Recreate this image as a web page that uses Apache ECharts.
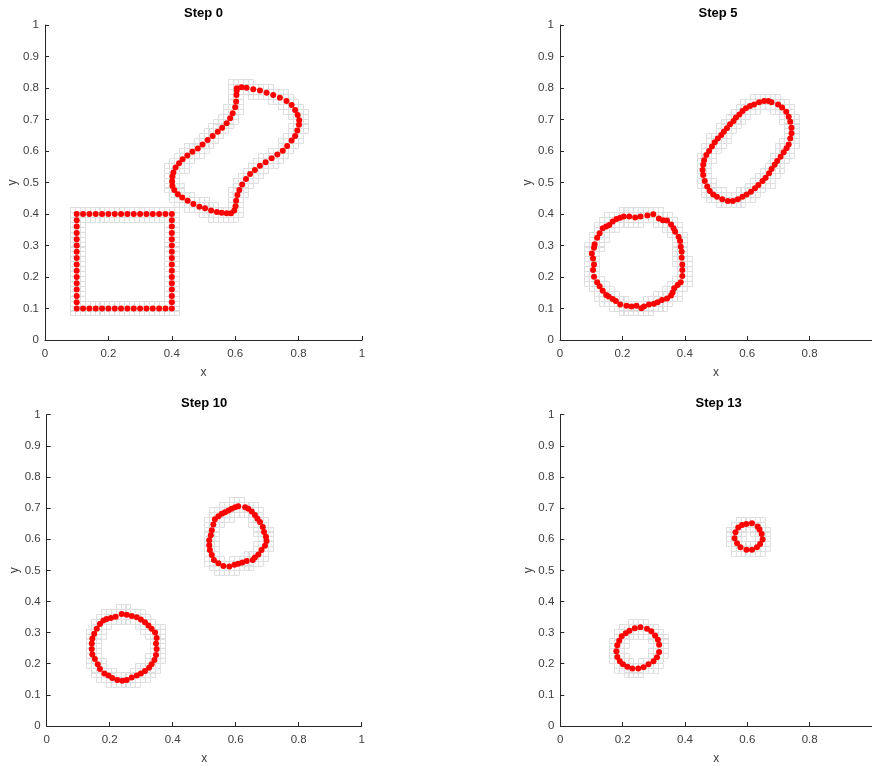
<!DOCTYPE html>
<html>
<head>
<meta charset="utf-8">
<script src="https://cdn.jsdelivr.net/npm/echarts@6/dist/echarts.min.js"></script>
<style>html,body{margin:0;padding:0;background:#fff;}#c{width:872px;height:766px;}</style>
</head>
<body>
<div id="c"></div>
<script>
// ---------- DATA ----------
const titles = ['Step 0', 'Step 5', 'Step 10', 'Step 13'];
const yTicks = [0, 0.1, 0.2, 0.3, 0.4, 0.5, 0.6, 0.7, 0.8, 0.9, 1];
const xTicks = [0, 0.2, 0.4, 0.6, 0.8, 1];

const step0Square = [
  [0.10,0.40],[0.12,0.40],[0.14,0.40],[0.16,0.40],[0.18,0.40],[0.20,0.40],[0.22,0.40],[0.24,0.40],
  [0.26,0.40],[0.28,0.40],[0.30,0.40],[0.32,0.40],[0.34,0.40],[0.36,0.40],[0.38,0.40],[0.40,0.40],
  [0.40,0.38],[0.40,0.36],[0.40,0.34],[0.40,0.32],[0.40,0.30],[0.40,0.28],[0.40,0.26],[0.40,0.24],
  [0.40,0.22],[0.40,0.20],[0.40,0.18],[0.40,0.16],[0.40,0.14],[0.40,0.12],[0.40,0.10],
  [0.38,0.10],[0.36,0.10],[0.34,0.10],[0.32,0.10],[0.30,0.10],[0.28,0.10],[0.26,0.10],[0.24,0.10],
  [0.22,0.10],[0.20,0.10],[0.18,0.10],[0.16,0.10],[0.14,0.10],[0.12,0.10],[0.10,0.10],
  [0.10,0.12],[0.10,0.14],[0.10,0.16],[0.10,0.18],[0.10,0.20],[0.10,0.22],[0.10,0.24],[0.10,0.26],
  [0.10,0.28],[0.10,0.30],[0.10,0.32],[0.10,0.34],[0.10,0.36],[0.10,0.38]
];
const step0Blob = [
  [0.605,0.799],[0.620,0.802],[0.636,0.801],[0.657,0.796],[0.678,0.792],[0.699,0.785],[0.720,0.778],
  [0.741,0.769],[0.762,0.759],[0.778,0.746],[0.789,0.730],[0.797,0.714],[0.802,0.698],[0.801,0.683],
  [0.796,0.665],[0.789,0.648],[0.778,0.633],[0.764,0.616],[0.750,0.601],[0.733,0.589],[0.715,0.577],
  [0.696,0.564],[0.678,0.553],[0.662,0.540],[0.647,0.527],[0.634,0.511],[0.622,0.494],[0.613,0.476],
  [0.607,0.460],[0.603,0.442],[0.601,0.425],[0.597,0.411],[0.587,0.402],[0.573,0.402],[0.557,0.404],
  [0.542,0.406],[0.524,0.411],[0.505,0.418],[0.487,0.423],[0.468,0.432],[0.450,0.442],[0.433,0.452],
  [0.419,0.463],[0.408,0.476],[0.402,0.489],[0.401,0.503],[0.402,0.519],[0.405,0.532],[0.412,0.548],
  [0.423,0.561],[0.434,0.574],[0.449,0.586],[0.465,0.598],[0.482,0.608],[0.497,0.621],[0.513,0.635],
  [0.529,0.648],[0.545,0.661],[0.559,0.674],[0.573,0.688],[0.584,0.704],[0.592,0.720],[0.600,0.739],
  [0.603,0.757],[0.604,0.778],[0.605,0.792]
];
const step5Circle = [
  [0.204,0.392],[0.222,0.392],[0.241,0.389],[0.258,0.392],[0.280,0.395],[0.299,0.399],[0.317,0.386],
  [0.330,0.380],[0.343,0.379],[0.356,0.367],[0.364,0.355],[0.369,0.344],[0.380,0.328],[0.385,0.314],
  [0.387,0.296],[0.390,0.280],[0.390,0.261],[0.392,0.240],[0.392,0.222],[0.392,0.203],[0.387,0.183],
  [0.377,0.175],[0.366,0.164],[0.361,0.151],[0.356,0.141],[0.343,0.132],[0.327,0.127],[0.313,0.120],
  [0.301,0.115],[0.285,0.113],[0.269,0.106],[0.261,0.101],[0.245,0.109],[0.229,0.106],[0.213,0.109],
  [0.193,0.113],[0.179,0.124],[0.169,0.130],[0.156,0.138],[0.148,0.143],[0.137,0.156],[0.127,0.171],
  [0.119,0.183],[0.109,0.201],[0.106,0.222],[0.109,0.240],[0.106,0.259],[0.102,0.275],[0.109,0.293],
  [0.111,0.304],[0.119,0.325],[0.127,0.339],[0.137,0.355],[0.148,0.360],[0.158,0.365],[0.169,0.376],
  [0.181,0.384],[0.193,0.388]
];
const step5Ellipse = [
  [0.654,0.759],[0.638,0.755],[0.622,0.748],[0.609,0.743],[0.596,0.736],[0.585,0.727],[0.575,0.716],
  [0.564,0.706],[0.556,0.695],[0.545,0.685],[0.535,0.672],[0.525,0.661],[0.517,0.651],[0.506,0.640],
  [0.496,0.628],[0.487,0.614],[0.478,0.600],[0.469,0.587],[0.462,0.571],[0.459,0.556],[0.457,0.540],
  [0.459,0.524],[0.464,0.505],[0.472,0.487],[0.480,0.473],[0.491,0.462],[0.503,0.455],[0.520,0.447],
  [0.538,0.441],[0.554,0.441],[0.570,0.447],[0.585,0.455],[0.598,0.462],[0.612,0.471],[0.625,0.482],
  [0.636,0.492],[0.649,0.505],[0.659,0.515],[0.670,0.529],[0.678,0.543],[0.688,0.556],[0.696,0.568],
  [0.707,0.582],[0.717,0.596],[0.726,0.609],[0.733,0.621],[0.738,0.640],[0.742,0.656],[0.742,0.674],
  [0.738,0.693],[0.733,0.709],[0.725,0.725],[0.712,0.738],[0.699,0.748],[0.678,0.755],[0.668,0.759]
];
const step10Circle = [
  [0.238,0.360],[0.254,0.357],[0.270,0.353],[0.286,0.349],[0.299,0.342],[0.312,0.333],[0.323,0.323],
  [0.333,0.312],[0.344,0.300],[0.349,0.283],[0.347,0.265],[0.349,0.247],[0.347,0.228],[0.342,0.212],
  [0.333,0.198],[0.325,0.187],[0.312,0.177],[0.299,0.169],[0.286,0.162],[0.270,0.156],[0.254,0.148],
  [0.240,0.145],[0.224,0.148],[0.208,0.154],[0.196,0.162],[0.183,0.169],[0.169,0.183],[0.162,0.198],
  [0.153,0.215],[0.145,0.230],[0.143,0.247],[0.143,0.265],[0.145,0.281],[0.151,0.296],[0.159,0.312],
  [0.169,0.328],[0.180,0.339],[0.190,0.344],[0.204,0.347],[0.219,0.351]
];
const step10Blob = [
  [0.608,0.706],[0.598,0.703],[0.587,0.698],[0.577,0.692],[0.566,0.687],[0.556,0.682],[0.545,0.674],
  [0.534,0.664],[0.529,0.647],[0.524,0.629],[0.521,0.613],[0.516,0.597],[0.516,0.581],[0.518,0.565],
  [0.524,0.549],[0.531,0.533],[0.545,0.523],[0.561,0.514],[0.580,0.512],[0.596,0.518],[0.608,0.521],
  [0.621,0.525],[0.635,0.530],[0.654,0.533],[0.661,0.541],[0.672,0.551],[0.682,0.565],[0.693,0.579],
  [0.698,0.594],[0.696,0.608],[0.690,0.623],[0.686,0.639],[0.677,0.655],[0.669,0.666],[0.661,0.678],
  [0.651,0.689],[0.640,0.698],[0.630,0.703]
];
const step13Circle = [
  [0.257,0.317],[0.239,0.314],[0.222,0.306],[0.210,0.298],[0.197,0.288],[0.189,0.274],[0.183,0.259],
  [0.180,0.240],[0.183,0.222],[0.191,0.208],[0.201,0.198],[0.215,0.190],[0.231,0.185],[0.250,0.185],
  [0.267,0.189],[0.283,0.198],[0.299,0.208],[0.310,0.221],[0.317,0.238],[0.317,0.261],[0.313,0.277],
  [0.304,0.291],[0.292,0.304],[0.278,0.312]
];
const step13Small = [
  [0.615,0.651],[0.597,0.649],[0.583,0.646],[0.571,0.638],[0.562,0.622],[0.559,0.603],[0.567,0.587],
  [0.578,0.574],[0.597,0.566],[0.615,0.566],[0.631,0.574],[0.641,0.585],[0.649,0.599],[0.646,0.617],
  [0.639,0.631],[0.633,0.641]
];

const stepPoints = [
  step0Square.concat(step0Blob),
  step5Circle.concat(step5Ellipse),
  step10Circle.concat(step10Blob),
  step13Circle.concat(step13Small)
];

// ---------- LAYOUT ----------
const grids = [
  {left: 45, top: 25, width: 317, height: 315},
  {left: 560, top: 25, right: -4, height: 315},
  {left: 46.7, top: 414.7, width: 315, height: 315},
  {left: 560.3, top: 414.7, right: -4.9, height: 314}
];
const gridWidths = [317, 316, 315, 316.7];
const showLastX = [true, false, true, false];

// refinement cells around the interface points
const H = 1 / 64;
function cellsFor(points) {
  const seen = new Set(); const out = [];
  points.forEach(p => {
    const i0 = Math.floor(p[0] / H), j0 = Math.floor(p[1] / H);
    for (let i = i0 - 2; i <= i0 + 2; i++) for (let j = j0 - 2; j <= j0 + 2; j++) {
      const cx = (i + 0.5) * H, cy = (j + 0.5) * H;
      if (Math.abs(cx - p[0]) < 1.5 * H && Math.abs(cy - p[1]) < 1.5 * H) {
        const k = i + ',' + j;
        if (!seen.has(k)) { seen.add(k); out.push([i * H, j * H]); }
      }
    }
  });
  return out;
}

const axisColor = '#262626';
const labelColor = '#404040';
const font = 'Liberation Sans, Arial, Helvetica, sans-serif';
const fmt = v => String(parseFloat(v.toFixed(1)));
const option = {
  backgroundColor: '#ffffff',
  animation: false,
  title: grids.map((g, k) => ({
    text: titles[k],
    left: g.left + gridWidths[k] / 2,
    top: g.top - 18,
    textAlign: 'center',
    padding: 0,
    textStyle: {fontFamily: font, fontSize: 13, fontWeight: 'bold', color: '#000'}
  })),
  grid: grids.map(g => Object.assign({containLabel: false}, g)),
  xAxis: grids.map((g, k) => ({
    gridIndex: k, type: 'value', min: 0, max: 1, interval: 0.2,
    name: 'x', nameLocation: 'middle', nameGap: 27,
    nameTextStyle: {fontFamily: font, fontSize: 12, color: labelColor},
    axisLine: {show: true, onZero: false, lineStyle: {color: axisColor, width: 1}},
    axisTick: {show: true, inside: true, length: 4, lineStyle: {color: axisColor}},
    axisLabel: {fontFamily: font, fontSize: 11.5, color: labelColor, margin: 8,
      showMaxLabel: showLastX[k], formatter: fmt},
    splitLine: {show: false}
  })),
  yAxis: grids.map((g, k) => ({
    gridIndex: k, type: 'value', min: 0, max: 1, interval: 0.1,
    name: 'y', nameLocation: 'middle', nameGap: 26, nameRotate: 90,
    nameTextStyle: {fontFamily: font, fontSize: 12, color: labelColor},
    axisLine: {show: true, onZero: false, lineStyle: {color: axisColor, width: 1}},
    axisTick: {show: true, inside: true, length: 4, lineStyle: {color: axisColor}},
    axisLabel: {fontFamily: font, fontSize: 11.5, color: labelColor, margin: 6, formatter: fmt},
    splitLine: {show: false}
  })),
  series: []
};

stepPoints.forEach((pts, k) => {
  option.series.push({
    type: 'custom', xAxisIndex: k, yAxisIndex: k, z: 1, silent: true, clip: true,
    data: cellsFor(pts),
    renderItem: function (params, api) {
      const p0 = api.coord([api.value(0), api.value(1) + H]);
      const s = api.size([H, H]);
      return {type: 'rect', shape: {x: Math.round(p0[0]) + 0.5, y: Math.round(p0[1]) + 0.5, width: s[0], height: s[1]},
        style: {fill: 'none', stroke: '#dedede', lineWidth: 1}};
    }
  });
  option.series.push({
    type: 'scatter', xAxisIndex: k, yAxisIndex: k, z: 3, silent: true,
    symbol: 'circle', symbolSize: 6,
    itemStyle: {color: '#ff0000', borderWidth: 0, opacity: 1},
    data: pts
  });
});

const chart = echarts.init(document.getElementById('c'), null, {renderer: 'canvas'});
chart.setOption(option);
</script>
</body>
</html>
